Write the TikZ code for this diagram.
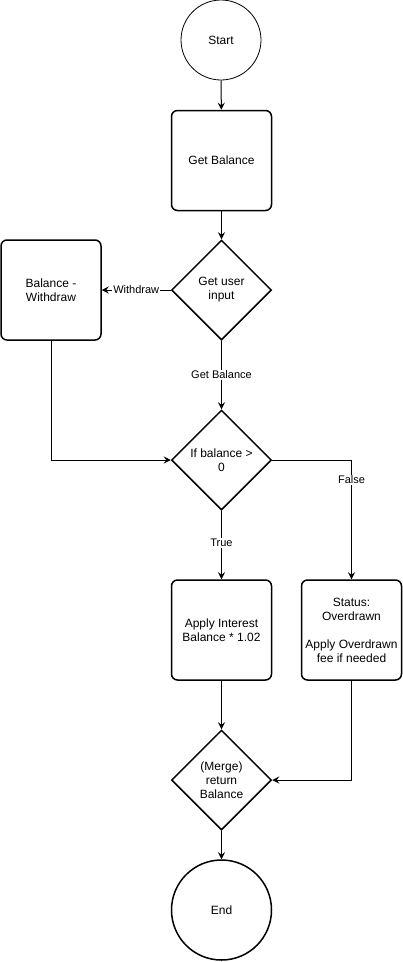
\documentclass[tikz,border=0pt]{standalone}
\usepackage{fontspec}
\setmainfont{Liberation Sans}
\usetikzlibrary{shapes.geometric,arrows.meta}
\begin{document}
\begin{tikzpicture}[x=1pt,y=-1pt,
  every node/.style={font=\fontsize{12}{14}\selectfont, align=center},
  box/.style={draw, line width=1.5pt, rounded corners=6pt, minimum width=100pt, minimum height=100pt, inner sep=0pt},
  dia/.style={draw, diamond, line width=1.5pt, minimum width=100pt, minimum height=100pt, inner sep=0pt},
  term/.style={draw, circle, inner sep=0pt},
  conn/.style={line width=1pt, -{Stealth[length=7pt,width=7pt,inset=2.5pt]}},
  elab/.style={fill=white, inner sep=1pt, font=\fontsize{11}{13}\selectfont}
]
\useasboundingbox (0,0) rectangle (402,962);
\node[term, line width=0.8pt, minimum size=80pt] (start) at (221,40) {Start};
\node[box] (gb) at (221.5,160.5) {Get Balance};
\node[dia, label={[align=center]center:Get user\\input}] (gui) at (221.5,290) {};
\node[box] (bw) at (51,290) {Balance -\\Withdraw};
\node[dia, label={[align=center]center:If balance \textgreater\\0}] (ib) at (221.5,460) {};
\node[box] (ai) at (221.5,630) {Apply Interest\\Balance * 1.02};
\node[box] (st) at (351.5,630) {Status:\\Overdrawn\\[14pt]Apply Overdrawn\\fee if needed};
\node[dia, label={[align=center]center:(Merge)\\return\\Balance}] (mg) at (221.5,780) {};
\node[term, line width=1.5pt, minimum size=100pt] (end) at (221.5,910) {End};

\draw[conn] (start) -- (gb);
\draw[conn] (gb) -- (gui);
\draw[conn] (gui) -- node[elab]{Withdraw} (bw);
\draw[conn] (gui) -- node[elab]{Get Balance} (ib);
\draw[conn] (bw.south) |- (ib.west);
\draw[conn] (ib) -- node[elab, pos=0.47]{True} (ai);
\draw[conn] (ib.east) -| node[elab, pos=0.583]{False} (st.north);
\draw[conn] (ai) -- (mg);
\draw[conn] (st.south) |- (mg.east);
\draw[conn] (mg) -- (end);
\end{tikzpicture}
\end{document}
